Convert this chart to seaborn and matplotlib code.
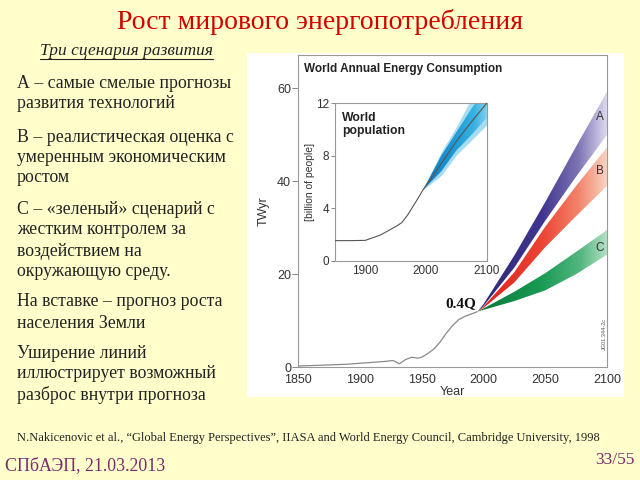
import matplotlib

matplotlib.use("Agg")

import matplotlib.pyplot as plt
import numpy as np
import pandas as pd
import seaborn as sns
from matplotlib.colors import LinearSegmentedColormap
from matplotlib.lines import Line2D
from matplotlib.patches import Rectangle

# --- data ---
hist_years = [1850, 1860, 1870, 1880, 1890, 1900, 1910, 1920, 1927, 1932, 1937,
              1942, 1947, 1950, 1955, 1960, 1965, 1970, 1975, 1980, 1985, 1990, 1995]
hist_twyr = [0.2, 0.3, 0.4, 0.5, 0.6, 0.8, 1.0, 1.2, 1.4, 0.7, 1.6,
             2.1, 1.9, 2.1, 2.9, 3.9, 5.4, 7.3, 8.9, 10.2, 10.9, 11.4, 11.9]

scen_years = [1995, 2000, 2025, 2050, 2075, 2100]
a_hi = [11.9, 13.5, 24.0, 35.5, 47.5, 59.3]
a_lo = [11.9, 13.1, 21.4, 31.5, 41.0, 50.0]
b_hi = [11.9, 13.0, 20.4, 30.2, 39.0, 47.3]
b_lo = [11.9, 12.7, 18.2, 25.8, 32.5, 39.0]
c_hi = [11.9, 12.6, 16.2, 20.2, 24.8, 29.5]
c_lo = [11.9, 12.3, 14.2, 16.5, 20.0, 24.2]
scen_names = ["A", "B", "C"]
scen_label_y = [53.9, 42.2, 25.7]

pop_years = [1850, 1875, 1900, 1925, 1950, 1960, 1970, 1980, 1990, 1995]
pop_bn = [1.53, 1.53, 1.55, 1.96, 2.6, 2.9, 3.5, 4.25, 5.0, 5.4]
fan_years = [1995, 2025, 2050, 2075, 2100]
fan_mid = [5.4, 7.4, 9.1, 10.6, 12.0]
fan_hi = [5.4, 8.3, 10.2, 12.4, 14.0]
fan_lo = [5.4, 6.5, 8.05, 9.2, 10.35]
fan_core_hi = [5.4, 8.0, 9.8, 11.6, 13.2]
fan_core_lo = [5.4, 6.8, 8.4, 9.6, 10.9]

left_lines = [
    ("А – самые смелые прогнозы", 83),
    ("развития технологий", 103),
    ("В – реалистическая оценка с", 137),
    ("умеренным экономическим", 157),
    ("ростом", 178),
    ("С – «зеленый» сценарий с", 209),
    ("жестким контролем за", 229),
    ("воздействием на", 251),
    ("окружающую среду.", 272),
    ("На вставке – прогноз роста", 302),
    ("населения Земли", 323),
    ("Уширение линий", 353),
    ("иллюстрирует возможный", 374),
    ("разброс внутри прогноза", 395),
]

sns.set_theme(style="white")
plt.rcParams["font.family"] = ["Liberation Sans", "DejaVu Sans"]

SERIF = ["Liberation Serif", "DejaVu Serif"]
W, H = 640, 480

fig = plt.figure(figsize=(6.4, 4.8), dpi=100, facecolor="#ffffcc")


def fx(px):
    return px / W


def fy(py):
    return 1 - py / H


# white panel behind the picture
fig.add_artist(Rectangle((fx(247), fy(397)), fx(624) - fx(247), fy(53) - fy(397),
                         transform=fig.transFigure, facecolor="white", edgecolor="none", zorder=0))


def gradient_fill(ax, x, lo, hi, stops, x0, x1, ytop, z=2):
    poly = ax.fill_between(x, lo, hi, facecolor="none", edgecolor="none")
    cmap = LinearSegmentedColormap.from_list("g", stops)
    grad = np.linspace(0, 1, 256).reshape(1, -1)
    im = ax.imshow(grad, cmap=cmap, extent=[x0, x1, 0, ytop], aspect="auto",
                   origin="lower", zorder=z, interpolation="bilinear")
    im.set_clip_path(poly.get_paths()[0], ax.transData)


# --- main chart ---
ax = fig.add_axes([fx(298), fy(367), fx(607) - fx(298), fy(55) - fy(367)])
ax.set_facecolor("white")

band_colors = [
    [(0, "#2c2878"), (0.5, "#3f358f"), (0.78, "#7d74b4"), (1, "#dcd9ee")],
    [(0, "#dc1e1a"), (0.5, "#ec4434"), (0.78, "#f2836a"), (1, "#fad2bf")],
    [(0, "#07783a"), (0.5, "#1a9a55"), (0.8, "#55b780"), (1, "#b2e0c4")],
]
for (lo, hi), stops in zip([(a_lo, a_hi), (b_lo, b_hi), (c_lo, c_hi)], band_colors):
    gradient_fill(ax, scen_years, lo, hi, stops, 1995, 2100, 70)

hist_df = pd.DataFrame({"year": hist_years, "twyr": hist_twyr})
sns.lineplot(data=hist_df, x="year", y="twyr", ax=ax, color="#8a8a8a", lw=0.9, zorder=3)

for name, y in zip(scen_names, scen_label_y):
    ax.text(2094, y, name, ha="center", va="center", fontsize=8.5, color="#333333", zorder=4)

ax.text(1994, 12.3, "0.4Q", ha="right", va="bottom", fontsize=11, fontweight="bold",
        family=SERIF, color="#111111", zorder=4)
ax.text(2098, 7, "JG01.344-2c", rotation=90, ha="center", va="center", fontsize=4,
        color="#555555")
ax.text(1855, 64.2, "World Annual Energy Consumption", ha="left", va="center",
        fontsize=8.5, fontweight="bold", color="#222222")

ax.set_xlim(1850, 2100)
ax.set_ylim(0, 67.2)
ax.set_xticks([1850, 1900, 1950, 2000, 2050, 2100])
ax.set_yticks([0, 20, 40, 60])
ax.tick_params(axis="x", length=0, pad=5, labelsize=9, labelcolor="#333333")
ax.tick_params(axis="y", length=4, width=0.7, color="#888888", left=True, pad=1,
               labelsize=9, labelcolor="#333333")
ax.set_xlabel("Year", fontsize=9, color="#333333", labelpad=0)
ax.set_ylabel("TWyr", fontsize=9, color="#333333", labelpad=5)
for s in ax.spines.values():
    s.set_color("#999999")
    s.set_linewidth(0.8)

# --- inset: world population ---
ins = fig.add_axes([fx(335), fy(260.7), fx(486.7) - fx(335), fy(103.3) - fy(260.7)])
ins.set_facecolor("white")
ins.fill_between(fan_years, fan_lo, fan_hi, color="#a6dcf1", lw=0, zorder=1.5)
gradient_fill(ins, fan_years, fan_core_lo, fan_core_hi,
              [(0, "#1679bf"), (0.45, "#1b97d4"), (0.8, "#38b2e2"), (1, "#7fcfee")],
              1995, 2100, 14)
pop_df = pd.DataFrame({"year": pop_years + fan_years[1:], "pop": pop_bn + fan_mid[1:]})
sns.lineplot(data=pop_df, x="year", y="pop", ax=ins, color="#555555", lw=0.8, zorder=3)
ins.text(1862, 11.3, "World\npopulation", ha="left", va="top", fontsize=8.8,
         fontweight="bold", color="#222222", linespacing=1.1)
ins.set_xlim(1850, 2100)
ins.set_ylim(0, 12)
ins.set_xticks([1900, 2000, 2100])
ins.set_yticks([0, 4, 8, 12])
ins.tick_params(axis="x", length=0, pad=3, labelsize=8.5, labelcolor="#333333")
ins.tick_params(axis="y", length=3, width=0.7, color="#888888", left=True, pad=1,
                labelsize=8.5, labelcolor="#333333")
ins.set_xlabel("")
ins.set_ylabel("[billion of people]", fontsize=7.5, color="#333333", labelpad=1)
for s in ins.spines.values():
    s.set_color("#999999")
    s.set_linewidth(0.8)

# --- slide text ---
fig.text(fx(320), fy(22), "Рост мирового энергопотребления", ha="center", va="center",
         fontsize=20, color="#d00000", family=SERIF)
fig.text(fx(127), fy(51), "Три сценария развития", ha="center", va="center",
         fontsize=12.5, style="italic", family=SERIF, color="#222222")
fig.add_artist(Line2D([fx(40), fx(213)], [fy(59), fy(59)], transform=fig.transFigure,
                      color="#222222", lw=0.8))
for line, y in left_lines:
    fig.text(fx(17), fy(y), line, ha="left", va="center", fontsize=12.8, family=SERIF,
             color="#222222")
fig.text(fx(17), fy(438), "N.Nakicenovic et al., “Global Energy Perspectives”, IIASA and "
         "World Energy Council, Cambridge University, 1998", ha="left", va="center",
         fontsize=9, family=SERIF, color="#222222")
fig.text(fx(5), fy(466), "СПбАЭП, 21.03.2013", ha="left", va="center", fontsize=12.9,
         family=SERIF, color="#7a2a6e")
fig.text(fx(635), fy(460), "33/55", ha="right", va="center", fontsize=12.5, family=SERIF,
         color="#7a2a6e")

fig.savefig("out.png", dpi=100, facecolor=fig.get_facecolor())
